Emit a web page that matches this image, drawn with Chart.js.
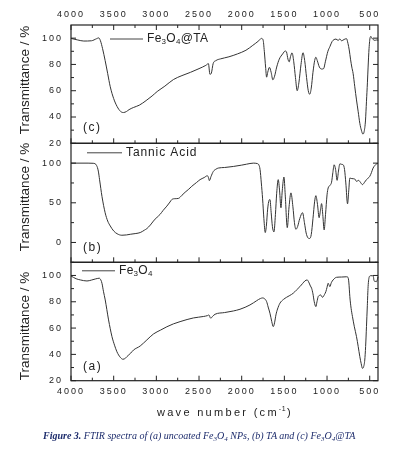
<!DOCTYPE html>
<html>
<head>
<meta charset="utf-8">
<script src="https://cdn.jsdelivr.net/npm/chart.js@4.4.1/dist/chart.umd.min.js"></script>
<style>
  body { margin: 0; background: #fff; }
  #wrap { position: relative; width: 394px; height: 452px; }
  #wrap canvas { position: absolute; left: 0; top: 0; }
  #caption {
    position: absolute; left: 43px; top: 430px; white-space: nowrap;
    font: italic 10px "Liberation Serif", serif; color: #1d2c6c;
  }
  #caption b { font-weight: bold; }
  #caption sub { font-size: 7px; vertical-align: -2px; line-height: 0; }
</style>
</head>
<body>
<div id="wrap">
  <canvas id="panelC" width="394" height="452"></canvas>
  <canvas id="panelB" width="394" height="452"></canvas>
  <canvas id="panelA" width="394" height="452"></canvas>
  <div id="caption"><b>Figure 3.</b> FTIR spectra of (a) uncoated Fe<sub>3</sub>O<sub>4</sub> NPs, (b) TA and (c) Fe<sub>3</sub>O<sub>4</sub>@TA</div>
</div>
<script>
// wavenumber ticks (cm-1)
const xTicks = [4000, 3500, 3000, 2500, 2000, 1500, 1000, 500];
const xMinor = [3750, 3250, 2750, 2250, 1750, 1250, 750];

// (c) Fe3O4@TA
const wnC = [4000, 3920, 3850, 3760, 3700, 3675, 3655, 3630, 3600, 3570, 3540, 3500, 3460, 3420, 3385, 3350, 3320, 3270, 3200, 3120,
  3050, 2990, 2900, 2800, 2700, 2600, 2500, 2420, 2390, 2372, 2355, 2335, 2300, 2250, 2150, 2050, 1950, 1870, 1800, 1770,
  1750, 1735, 1720, 1708, 1695, 1675, 1655, 1635, 1615, 1590, 1560, 1520, 1490, 1475, 1458, 1443, 1428, 1410, 1390, 1370,
  1350, 1330, 1305, 1282, 1262, 1240, 1220, 1203, 1185, 1165, 1145, 1131, 1115, 1090, 1064, 1040, 1020, 990, 967, 940,
  920, 895, 870, 850, 830, 800, 772, 755, 740, 725, 710, 695, 675, 655, 635, 616, 598, 580, 565, 550,
  538, 527, 519, 508, 495, 485, 475, 460, 440, 420, 400];
const tC = [99.8, 98.6, 97.8, 98.0, 99.6, 100.2, 98, 92, 83, 73, 63, 54, 48, 44.3, 43.4, 44.2, 45.6, 47.2, 49, 52.5,
  56, 59.4, 63.5, 68.5, 71.5, 74, 76.8, 79.3, 80.6, 72.5, 73.5, 80.5, 83, 84.2, 85.8, 88, 90.8, 94.5, 98, 99.8,
  98.8, 90, 78, 70.3, 74, 77.8, 74, 68.3, 71, 78, 84, 88, 90.2, 89.5, 84, 82, 86, 88.8, 82, 70,
  60, 66, 80, 88.9, 83, 70, 60, 57.3, 62, 74, 83, 85.5, 83, 78, 76.5, 76.8, 82, 90, 93.5, 97.5,
  98.8, 99.3, 98.3, 99.4, 98, 99, 99.6, 96, 91, 84, 78, 73.3, 63, 53, 44, 35.2, 30, 27, 29, 37,
  52, 66, 78, 92, 100.5, 101.3, 100, 99, 98.3, 98.6, 98.5];

// (b) Tannic acid
const wnB = [4000, 3800, 3740, 3700, 3680, 3665, 3637, 3600, 3570, 3540, 3500, 3460, 3404, 3350, 3300, 3240, 3189, 3140, 3111, 3070,
  3034, 2990, 2956, 2920, 2877, 2840, 2819, 2780, 2742, 2700, 2663, 2620, 2585, 2530, 2488, 2440, 2402, 2390, 2379, 2360,
  2332, 2300, 2274, 2200, 2098, 2000, 1942, 1864, 1820, 1800, 1785, 1770, 1755, 1740, 1724, 1710, 1696, 1680, 1669, 1655,
  1640, 1622, 1605, 1590, 1572, 1556, 1540, 1525, 1505, 1490, 1466, 1445, 1423, 1400, 1382, 1365, 1345, 1320, 1287, 1265,
  1245, 1225, 1205, 1185, 1165, 1145, 1131, 1112, 1093, 1078, 1064, 1050, 1034, 1018, 1000, 987, 965, 947, 932, 917,
  900, 882, 866, 850, 830, 811, 795, 780, 760, 746, 733, 710, 675, 655, 630, 610, 585, 560, 538, 500,
  480, 461, 440, 421, 403];
const tB = [100, 100, 99.8, 97, 90, 79, 58, 37.5, 27, 20.8, 14.5, 11, 9.1, 9.5, 10.4, 11.3, 12.5, 15.5, 17.5, 22,
  27, 32, 35.4, 40.5, 45.8, 51, 54.1, 55.2, 55.5, 59.5, 63.3, 67.2, 70.8, 75.5, 79.2, 81.8, 84.1, 82, 77.9, 83,
  89.6, 92.5, 93.8, 94.5, 95.8, 97.5, 98.7, 100, 99.5, 98, 92, 75, 55, 30, 12.5, 22, 42, 53, 54.1, 38,
  20, 13.3, 35, 62, 79.2, 65, 43.7, 65, 82.5, 60, 18.7, 45, 62.5, 45, 25, 16.6, 20, 30, 37.5, 25,
  12, 6, 5, 10, 30, 52, 59, 48, 31.2, 40, 49, 35, 15.8, 35, 60, 68.7, 72, 76, 88, 97.9,
  92, 78.3, 90, 99.1, 98.5, 97.9, 92, 75, 48.7, 65, 81.2, 80.5, 80, 77, 78.3, 76, 72.9, 76, 79.2, 83.3,
  88, 93.7, 97, 99, 99.5];

// (a) Fe3O4
const wnA = [4000, 3940, 3890, 3813, 3760, 3716, 3669, 3650, 3637, 3620, 3599, 3580, 3560, 3540, 3520, 3490, 3462, 3423, 3392, 3360,
  3345, 3300, 3268, 3189, 3111, 3034, 2950, 2877, 2800, 2722, 2640, 2566, 2450, 2400, 2385, 2363, 2340, 2312, 2200, 2098,
  2020, 1960, 1903, 1860, 1825, 1780, 1754, 1730, 1708, 1690, 1669, 1648, 1630, 1615, 1599, 1580, 1552, 1510, 1474, 1436,
  1396, 1360, 1318, 1285, 1260, 1233, 1215, 1195, 1181, 1165, 1150, 1131, 1118, 1104, 1090, 1076, 1053, 1030, 1014, 1000,
  987, 977, 967, 950, 929, 889, 830, 772, 755, 745, 733, 718, 702, 680, 655, 635, 616, 600, 585, 572,
  558, 548, 538, 528, 519, 505, 490, 465, 455, 450, 435, 421, 410, 403];
const tA = [99.6, 97.5, 96.6, 95.8, 96.5, 97.3, 97.9, 96.5, 94, 88, 81.4, 74, 66.2, 59.5, 53.5, 47, 42, 37.8, 36.3, 37.2,
  38.3, 41, 43.3, 46.4, 51, 55.5, 58.5, 61, 63.2, 64.9, 66.5, 67.7, 68.8, 69.5, 70, 67.5, 69, 70.5, 71.8, 73,
  74.3, 75.8, 77.6, 79.3, 80.8, 82.5, 82.9, 82.2, 80.1, 76, 71.3, 65, 61.1, 64, 70, 74.5, 78.9, 81.8, 83.4, 84.8,
  86.5, 88.8, 91.5, 94, 95.8, 96.6, 95, 92, 90.3, 86, 80, 76.3, 80, 83.9, 84.8, 85.2, 83.4, 85.5, 87.7, 91,
  94.1, 92.8, 91.5, 94.5, 96.6, 98.6, 98.8, 99, 98.6, 95, 83.9, 75, 68.7, 61, 53.5, 46, 38.3, 33, 29.4, 30.5,
  35.7, 46, 61.1, 77, 91.5, 99, 99.8, 99.8, 98.5, 96, 95.5, 95.3, 97, 99];

const yTicksA = [20, 40, 60, 80, 100];
const yMinorA = [30, 50, 70, 90];
const yTicksB = [0, 50, 100];
const yMinorB = [-25, 25, 75];
const yTicksC = [20, 40, 60, 80, 100];
const yMinorC = [30, 50, 70, 90];

const ink = '#222';
const tickFont = { family: 'Liberation Sans', size: 9 };

// draws frame, inward ticks, axis title, legend and panel letter
const panelDecor = {
  id: 'panelDecor',
  beforeDraw(chart) { chart.ctx.letterSpacing = '2px'; },
  afterDraw(chart, args, o) {
    const { ctx, chartArea: a, scales } = chart;
    const xs = scales.x, ys = scales.y;
    ctx.save();
    ctx.letterSpacing = '0px';
    ctx.strokeStyle = ink;
    ctx.lineWidth = 1.2;
    ctx.strokeRect(a.left, a.top, a.right - a.left, a.bottom - a.top);
    ctx.lineWidth = 1;
    ctx.beginPath();
    const xt = (v, len) => {
      const px = xs.getPixelForValue(v);
      ctx.moveTo(px, a.bottom); ctx.lineTo(px, a.bottom - len);
      if (o.topTicks) { ctx.moveTo(px, a.top); ctx.lineTo(px, a.top + len); }
    };
    xTicks.forEach(v => xt(v, 5));
    xMinor.forEach(v => xt(v, 3));
    const yt = (v, len) => {
      const py = ys.getPixelForValue(v);
      ctx.moveTo(a.left, py); ctx.lineTo(a.left + len, py);
      ctx.moveTo(a.right, py); ctx.lineTo(a.right - len, py);
    };
    o.yTicks.forEach(v => yt(v, 5));
    o.yMinor.forEach(v => yt(v, 3));
    ctx.stroke();

    // y title
    ctx.fillStyle = ink;
    ctx.font = '13.5px "Liberation Sans"';
    ctx.textAlign = 'center';
    ctx.textBaseline = 'middle';
    ctx.save();
    ctx.translate(25, o.titleY);
    ctx.rotate(-Math.PI / 2);
    ctx.fillText('Transmittance / %', 0, 0);
    ctx.restore();

    // legend line + label with subscripts
    const ly = a.top + o.legend.dy;
    ctx.beginPath();
    ctx.moveTo(o.legend.x0, ly); ctx.lineTo(o.legend.x1, ly);
    ctx.strokeStyle = '#444';
    ctx.stroke();
    ctx.textAlign = 'left';
    ctx.letterSpacing = o.legend.spacing + 'px';
    let x = o.legend.x1 + 4;
    o.legend.parts.forEach(([txt, sub]) => {
      ctx.font = sub ? '8px "Liberation Sans"' : '12px "Liberation Sans"';
      ctx.fillText(txt, x, ly + (sub ? 3 : 0));
      x += ctx.measureText(txt).width;
    });

    // panel letter
    ctx.font = '12px "Liberation Sans"';
    ctx.letterSpacing = '1.5px';
    ctx.fillText(o.letter, 83, o.letterY);

    if (o.xTitle) {
      ctx.font = '11px "Liberation Sans"';
      ctx.letterSpacing = '2.3px';
      const s1 = 'wave number (cm', s2 = '-1', s3 = ')';
      const w1 = ctx.measureText(s1).width, w3 = ctx.measureText(s3).width;
      ctx.font = '7px "Liberation Sans"';
      ctx.letterSpacing = '0.5px';
      const w2 = ctx.measureText(s2).width;
      let tx = (a.left + a.right) / 2 - (w1 + w2 + w3) / 2;
      const ty = 413;
      ctx.font = '11px "Liberation Sans"';
      ctx.letterSpacing = '2.3px';
      ctx.fillText(s1, tx, ty); tx += w1;
      ctx.font = '7px "Liberation Sans"';
      ctx.letterSpacing = '0.5px';
      ctx.fillText(s2, tx, ty - 4); tx += w2 + 1;
      ctx.font = '11px "Liberation Sans"';
      ctx.letterSpacing = '2.3px';
      ctx.fillText(s3, tx, ty);
    }
    ctx.restore();
  }
};

function makePanel(id, wn, t, o) {
  return new Chart(document.getElementById(id), {
    type: 'line',
    data: {
      datasets: [{
        data: wn.map((w, i) => ({ x: w, y: t[i] })),
        borderColor: '#333',
        borderWidth: 1,
        pointRadius: 0,
        cubicInterpolationMode: 'monotone',
        clip: 2
      }]
    },
    options: {
      responsive: false,
      animation: false,
      events: [],
      layout: { padding: { left: 0, right: 16, top: o.padTop, bottom: o.padBottom } },
      plugins: { legend: { display: false }, tooltip: { enabled: false }, panelDecor: o },
      scales: {
        x: {
          type: 'linear', reverse: true, min: 403, max: 4000,
          position: o.xPos,
          display: o.xLabels,
          afterBuildTicks: s => { s.ticks = xTicks.map(v => ({ value: v })); },
          afterFit: s => { s.height = o.xHeight; },
          grid: { display: false, drawTicks: false },
          border: { display: false },
          ticks: { color: ink, font: tickFont, padding: 5, maxRotation: 0, autoSkip: false, callback: v => String(v) }
        },
        y: {
          type: 'linear', min: o.yMin, max: o.yMax,
          afterBuildTicks: s => { s.ticks = o.yTicks.map(v => ({ value: v })); },
          afterFit: s => { s.width = 71; },
          grid: { display: false, drawTicks: false },
          border: { display: false },
          ticks: { color: ink, font: tickFont, padding: 8, callback: v => String(v) }
        }
      }
    },
    plugins: [panelDecor]
  });
}

makePanel('panelC', wnC, tC, {
  padTop: 0, padBottom: 452 - 143.3, xPos: 'top', xLabels: true, xHeight: 25,
  yMin: 20, yMax: 110, yTicks: yTicksC, yMinor: yMinorC, topTicks: true,
  titleY: 80, letter: '(c)', letterY: 127.5,
  legend: { x0: 110, x1: 143, dy: 14, spacing: 0.3, parts: [['Fe'], ['3', 1], ['O'], ['4', 1], ['@TA']] }
});
makePanel('panelB', wnB, tB, {
  padTop: 143.3, padBottom: 452 - 262.3, xPos: 'bottom', xLabels: false, xHeight: 0,
  yMin: -25, yMax: 125, yTicks: yTicksB, yMinor: yMinorB,
  titleY: 197, letter: '(b)', letterY: 247.5,
  legend: { x0: 87, x1: 122, dy: 9.5, spacing: 0.9, parts: [['Tannic Acid']] }
});
makePanel('panelA', wnA, tA, {
  padTop: 262.3, padBottom: 51.3, xPos: 'bottom', xLabels: true, xHeight: 20,
  yMin: 20, yMax: 110, yTicks: yTicksA, yMinor: yMinorA,
  titleY: 326, letter: '(a)', letterY: 366.5, xTitle: true,
  legend: { x0: 82, x1: 115, dy: 8.5, spacing: 0.3, parts: [['Fe'], ['3', 1], ['O'], ['4', 1]] }
});
</script>
</body>
</html>
